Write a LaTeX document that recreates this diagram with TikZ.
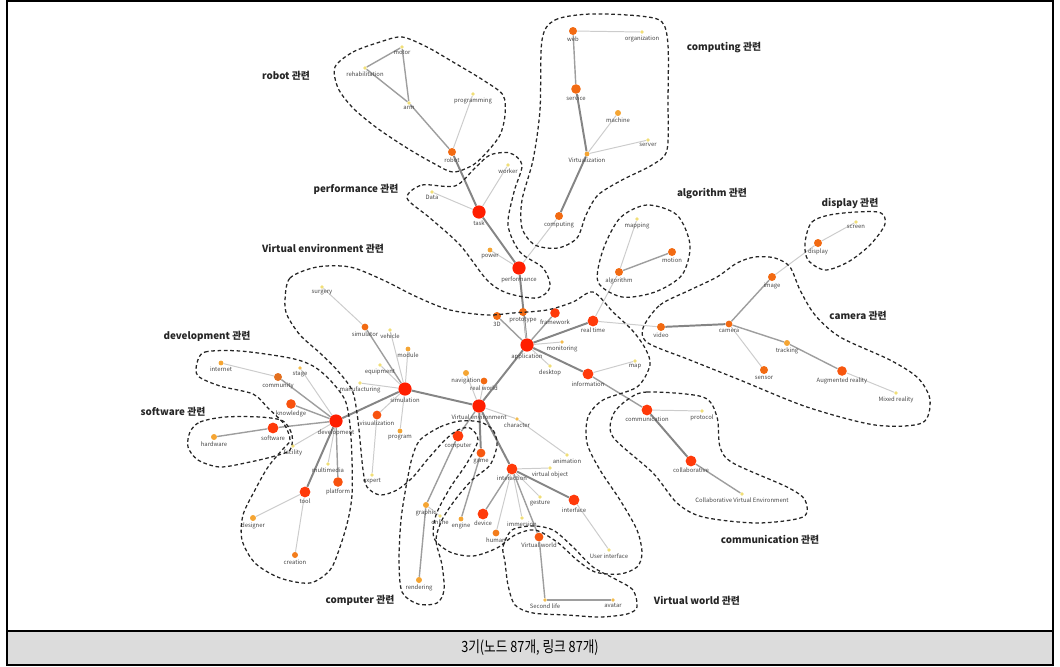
\documentclass[tikz,border=0pt]{standalone}
\usepackage{fontspec}
\setmainfont{Noto Sans CJK KR}
\usetikzlibrary{positioning}
\pgfdeclarelayer{background}
\pgfsetlayers{background,main}

\definecolor{hubred}{HTML}{FF1E00}
\definecolor{redtone}{HTML}{FF3A0A}
\definecolor{orangetone}{HTML}{F26A12}
\definecolor{ambertone}{HTML}{F5A533}
\definecolor{paletone}{HTML}{F0DE78}
\definecolor{bandgray}{HTML}{DCDCDC}

\begin{document}
\begin{tikzpicture}[
  x=0.025cm, y=-0.025cm,
  every label/.style={text=black!72, inner sep=0.4pt, font=\fontsize{4.2}{5}\selectfont},
  label distance=0.5pt,
  dot/.style={circle, inner sep=0pt, draw=none},
  hubdot/.style={dot, fill=hubred, minimum size=0.33cm},
  reddot/.style={dot, fill=redtone, minimum size=0.27cm},
  orangedot/.style={dot, fill=orangetone, minimum size=0.2cm},
  ambdot/.style={dot, fill=ambertone, minimum size=0.15cm},
  paledot/.style={dot, fill=paletone, minimum size=0.09cm},
  linkA/.style={draw=black!48, line width=1.4pt},
  linkB/.style={draw=black!38, line width=1pt},
  linkC/.style={draw=black!20, line width=0.7pt},
  group/.style={draw=black!85, line width=0.9pt, dash pattern=on 2.6pt off 1.9pt},
  grouplabel/.style={font=\fontsize{7}{8}\selectfont\bfseries, text=black!85}
]
\useasboundingbox (0,0) rectangle (1060,666);
\fill[bandgray] (7,631) rectangle (1053,665);
\draw[line width=1.1pt] (7,1) rectangle (1053,665);
\draw[line width=1.1pt] (7,631) -- (1053,631);
\node (caption) at (530,648) {\scalebox{0.82}[1]{\fontsize{11}{13}\selectfont 3기(노드 87개, 링크 87개)}};

% robot
\node[paledot, label=below:motor] (motor) at (402,47) {};
\node[paledot, label=below:rehabilitation] (rehab) at (365,68) {};
\node[paledot, label=below:arm] (arm) at (409,103) {};
\node[paledot, label=below:programming] (programming) at (473,94) {};
\node[orangedot, label=below:robot] (robot) at (452,152) {};
% computing
\node[orangedot, label=below:web] (web) at (573,31) {};
\node[paledot, label=below:organization] (organization) at (642,32) {};
\node[orangedot, minimum size=0.24cm, label=below:service] (service) at (576,89) {};
\node[ambdot, label=below:machine] (machine) at (618,113) {};
\node[paledot, label=below:server] (server) at (648,140) {};
\node[ambdot, minimum size=0.12cm, label=below:Virtualization] (virtualization) at (587,154) {};
\node[orangedot, label=below:computing] (computing) at (559,216) {};
% performance
\node[paledot, label=below:Data] (data) at (432,192) {};
\node[paledot, label=below:worker] (worker) at (508,165) {};
\node[hubdot, label=below:task] (task) at (479,212) {};
\node[ambdot, minimum size=0.12cm, label=below:power] (power) at (490,250) {};
\node[hubdot, label=below:performance] (performance) at (519,268) {};
% algorithm, display
\node[paledot, label=below:mapping] (mapping) at (637,219) {};
\node[orangedot, label=below:motion] (motion) at (672,252) {};
\node[orangedot, label=below:algorithm] (algorithm) at (619,272) {};
\node[orangedot, label=below:display] (display) at (818,243) {};
\node[paledot, label=below:screen] (screen) at (856,222) {};
% camera
\node[orangedot, label=below:image] (image) at (772,277) {};
\node[orangedot, label=below:video] (video) at (661,327) {};
\node[orangedot, minimum size=0.17cm, label=below:camera] (camera) at (729,324) {};
\node[ambdot, label=below:tracking] (tracking) at (787,343) {};
\node[orangedot, label=below:sensor] (sensor) at (764,370) {};
\node[reddot, minimum size=0.24cm, fill=orangetone!60!redtone, label=below:Augmented reality] (augmented) at (842,371) {};
\node[paledot, label=below:Mixed reality] (mixed) at (896,393) {};
% application
\node[orangedot, label=below:3D] (threed) at (497,316) {};
\node[orangedot, label=below:prototype] (prototype) at (523,312) {};
\node[reddot, minimum size=0.24cm, label=below:framework] (framework) at (555,313) {};
\node[reddot, label=below:real time] (realtime) at (593,321) {};
\node[hubdot, label=below:application] (application) at (527,345) {};
\node[paledot, fill=ambertone!60!paletone, label=below:monitoring] (monitoring) at (562,342) {};
\node[paledot, label=below:desktop] (desktop) at (550,366) {};
\node[reddot, label=below:information] (information) at (588,374) {};
\node[paledot, label=below:map] (map) at (635,361) {};
\node[ambdot, label=below:navigation] (navigation) at (466,373) {};
\node[orangedot, minimum size=0.17cm, label=below:real world] (realworld) at (484,381) {};
\node[hubdot, label=below:Virtual environment] (virtualenv) at (479,406) {};
\node[paledot, fill=ambertone!60!paletone, label=below:character] (character) at (517,419) {};
\node[paledot, label=below:animation] (animation) at (567,455) {};
% simulation
\node[paledot, label=below:surgery] (surgery) at (322,287) {};
\node[orangedot, minimum size=0.17cm, label=below:simulator] (simulator) at (365,327) {};
\node[paledot, label=below:vehicle] (vehicle) at (390,330) {};
\node[ambdot, minimum size=0.12cm, label=below:module] (module) at (408,349) {};
\node[paledot, label=below:equipment] (equipment) at (380,365) {};
\node[paledot, label=below:manufacturing] (manufacturing) at (360,383) {};
\node[hubdot, label=below:simulation] (simulation) at (405,389) {};
\node[reddot, minimum size=0.22cm, fill=orangetone!50!redtone, label=below:visualization] (visualization) at (377,415) {};
\node[ambdot, minimum size=0.12cm, label=below:program] (program) at (400,431) {};
\node[paledot, label=below:expert] (expert) at (372,475) {};
% development
\node[ambdot, minimum size=0.12cm, label=below:internet] (internet) at (221,363) {};
\node[paledot, fill=ambertone!60!paletone, label=below:stage] (stage) at (300,368) {};
\node[orangedot, fill=orangetone!70!brown, label=below:community] (community) at (278,377) {};
\node[reddot, minimum size=0.24cm, fill=orangetone!50!redtone, label=below:knowledge] (knowledge) at (291,404) {};
\node[hubdot, label=below:development] (development) at (336,421) {};
\node[reddot, label=below:software] (software) at (273,428) {};
\node[ambdot, label=below:hardware] (hardware) at (214,437) {};
\node[paledot, label=below:facility] (facility) at (293,446) {};
\node[paledot, label=below:multimedia] (multimedia) at (328,464) {};
\node[reddot, minimum size=0.24cm, fill=orangetone!50!redtone, label=below:platform] (platform) at (338,482) {};
\node[reddot, label=below:tool] (tool) at (305,492) {};
\node[ambdot, label=below:designer] (designer) at (253,518) {};
\node[orangedot, minimum size=0.15cm, fill=orangetone!70!ambertone, label=below:creation] (creation) at (295,555) {};
% computer
\node[reddot, label=below:computer] (computer) at (458,436) {};
\node[orangedot, minimum size=0.22cm, fill=orangetone!60!redtone, label=below:game] (game) at (481,453) {};
\node[ambdot, label=below:graphic] (graphic) at (426,505) {};
\node[paledot, label=below:online] (online) at (440,516) {};
\node[ambdot, minimum size=0.12cm, label=below:engine] (engine) at (461,519) {};
\node[ambdot, label=below:rendering] (rendering) at (419,580) {};
% interaction
\node[reddot, label=below:interaction] (interaction) at (512,469) {};
\node[paledot, label=below:virtual object] (virtualobject) at (550,468) {};
\node[reddot, label=below:device] (device) at (483,514) {};
\node[orangedot, minimum size=0.17cm, fill=orangetone!70!ambertone, label=below:human] (human) at (496,533) {};
\node[paledot, label=below:immersion] (immersion) at (522,518) {};
\node[paledot, label=below:gesture] (gesture) at (540,497) {};
\node[reddot, label=below:interface] (interface) at (574,500) {};
\node[paledot, label=below:User interface] (userinterface) at (609,550) {};
\node[orangedot, minimum size=0.22cm, fill=orangetone!60!redtone, label=below:Virtual world] (virtualworld) at (539,537) {};
\node[paledot, fill=ambertone!60!paletone, label=below:Second life] (secondlife) at (545,600) {};
\node[paledot, fill=ambertone!60!paletone, label=below:avatar] (avatar) at (613,600) {};
% communication
\node[reddot, label=below:communication] (communication) at (647,410) {};
\node[paledot, label=below:protocol] (protocol) at (702,411) {};
\node[reddot, label=below:collaborative] (collaborative) at (691,461) {};
\node[paledot, label=below:Collaborative Virtual Environment] (cve) at (742,494) {};

\begin{pgfonlayer}{background}
\draw[linkB] (motor) -- (rehab);
\draw[linkB] (motor) -- (arm);
\draw[linkB] (rehab) -- (arm);
\draw[linkB] (arm) -- (robot);
\draw[linkC] (programming) -- (robot);
\draw[linkA] (robot) -- (task);
\draw[linkC] (web) -- (organization);
\draw[linkB] (web) -- (service);
\draw[linkA] (service) -- (virtualization);
\draw[linkC] (machine) -- (virtualization);
\draw[linkC] (server) -- (virtualization);
\draw[linkA] (virtualization) -- (computing);
\draw[linkC] (computing) -- (performance);
\draw[linkC] (data) -- (task);
\draw[linkC] (worker) -- (task);
\draw[linkA] (task) -- (performance);
\draw[linkC] (power) -- (performance);
\draw[linkA] (performance) -- (application);
\draw[linkC] (prototype) -- (application);
\draw[linkC] (mapping) -- (algorithm);
\draw[linkB] (motion) -- (algorithm);
\draw[linkC] (algorithm) -- (realtime);
\draw[linkC] (display) -- (screen);
\draw[linkC] (display) -- (image);
\draw[linkB] (image) -- (camera);
\draw[linkA] (video) -- (camera);
\draw[linkB] (camera) -- (tracking);
\draw[linkC] (camera) -- (sensor);
\draw[linkB] (tracking) -- (augmented);
\draw[linkC] (augmented) -- (mixed);
\draw[linkC] (realtime) -- (video);
\draw[linkB] (threed) -- (application);
\draw[linkB] (framework) -- (application);
\draw[linkA] (realtime) -- (application);
\draw[linkC] (monitoring) -- (application);
\draw[linkC] (desktop) -- (application);
\draw[linkA] (information) -- (application);
\draw[linkC] (information) -- (map);
\draw[linkB] (information) -- (communication);
\draw[linkA] (application) -- (virtualenv);
\draw[linkC] (navigation) -- (virtualenv);
\draw[linkC] (realworld) -- (virtualenv);
\draw[linkC] (virtualenv) -- (character);
\draw[linkC] (character) -- (animation);
\draw[linkC] (surgery) -- (simulator);
\draw[linkB] (simulator) -- (simulation);
\draw[linkC] (vehicle) -- (simulation);
\draw[linkC] (module) -- (simulation);
\draw[linkC] (equipment) -- (simulation);
\draw[linkC] (manufacturing) -- (simulation);
\draw[linkC] (simulation) -- (program);
\draw[linkC] (simulation) -- (visualization);
\draw[linkC] (visualization) -- (expert);
\draw[linkA] (simulation) -- (virtualenv);
\draw[linkA] (development) -- (simulation);
\draw[linkC] (internet) -- (community);
\draw[linkB] (community) -- (development);
\draw[linkC] (stage) -- (development);
\draw[linkB] (knowledge) -- (development);
\draw[linkB] (software) -- (development);
\draw[linkB] (hardware) -- (software);
\draw[linkC] (facility) -- (development);
\draw[linkC] (multimedia) -- (development);
\draw[linkB] (platform) -- (development);
\draw[linkA] (tool) -- (development);
\draw[linkC] (designer) -- (tool);
\draw[linkC] (creation) -- (tool);
\draw[linkB] (virtualenv) -- (computer);
\draw[linkA] (virtualenv) -- (game);
\draw[linkB] (computer) -- (graphic);
\draw[linkB] (graphic) -- (rendering);
\draw[linkB] (game) -- (engine);
\draw[linkC] (graphic) -- (online);
\draw[linkA] (virtualenv) -- (interaction);
\draw[linkC] (interaction) -- (virtualobject);
\draw[linkB] (interaction) -- (device);
\draw[linkC] (interaction) -- (human);
\draw[linkC] (interaction) -- (immersion);
\draw[linkC] (interaction) -- (gesture);
\draw[linkA] (interaction) -- (interface);
\draw[linkB] (interaction) -- (virtualworld);
\draw[linkC] (interface) -- (userinterface);
\draw[linkB] (virtualworld) -- (secondlife);
\draw[linkB] (secondlife) -- (avatar);
\draw[linkC] (communication) -- (protocol);
\draw[linkA] (communication) -- (collaborative);
\draw[linkB] (collaborative) -- (cve);
\end{pgfonlayer}

% group outlines
\draw[group] plot[smooth cycle] coordinates {(335,67) (353,52) (380,42) (402,37) (427,47) (453,62) (483,80) (503,95) (505,115) (500,135) (487,152) (473,165) (453,172) (433,163) (407,148) (377,128) (353,108) (338,88)};
\draw[group] plot[smooth cycle] coordinates {(542,40) (555,20) (590,14) (640,16) (662,22) (668,45) (668,100) (667,150) (652,165) (622,180) (598,195) (586,215) (577,238) (558,248) (535,245) (522,228) (522,200) (533,160) (540,110)};
\draw[group] plot[smooth cycle] coordinates {(407,198) (422,185) (455,186) (475,168) (490,155) (510,153) (522,165) (514,192) (508,225) (520,252) (543,268) (550,287) (537,298) (507,293) (487,280) (460,245) (430,218)};
\draw[group] plot[smooth cycle] coordinates {(598,282) (603,250) (620,218) (647,205) (677,215) (690,245) (682,275) (655,292) (622,297)};
\draw[group] plot[smooth cycle] coordinates {(805,243) (812,222) (835,214) (878,212) (885,224) (870,245) (848,262) (825,270) (808,260)};
\draw[group] plot[smooth cycle] coordinates {(643,328) (660,305) (690,290) (717,277) (737,263) (755,257) (775,258) (790,267) (800,290) (815,315) (840,337) (890,360) (918,378) (930,400) (922,423) (875,425) (807,407) (740,380) (690,360) (648,343)};
\draw[group] plot[smooth cycle] coordinates {(627,400) (647,392) (703,397) (717,417) (720,447) (733,463) (787,487) (805,500) (803,517) (757,523) (703,517) (677,503) (653,473) (613,437) (613,415)};
\draw[group] plot[smooth cycle] coordinates {(503,547) (512,530) (533,526) (553,530) (573,547) (593,567) (617,580) (633,590) (637,607) (627,614) (600,617) (567,615) (533,613) (515,605) (508,585) (505,562)};
\draw[group] plot[smooth cycle] coordinates {(420,440) (440,427) (460,421) (480,422) (493,430) (497,445) (490,465) (472,480) (455,500) (442,520) (436,540) (442,565) (444,590) (437,603) (418,604) (402,592) (399,560) (401,520) (406,487) (412,458)};
\draw[group] plot[smooth cycle] coordinates {(285,300) (290,278) (317,267) (350,267) (383,280) (417,297) (450,310) (487,315) (513,313) (547,310) (573,302) (593,292) (613,312) (632,330) (645,348) (650,365) (637,387) (603,400) (588,417) (587,443) (600,470) (620,500) (637,530) (642,553) (637,567) (620,574) (595,572) (577,560) (557,542) (535,530) (515,535) (497,548) (473,556) (450,552) (434,538) (436,515) (450,488) (467,463) (478,440) (470,428) (458,430) (445,440) (427,460) (413,477) (397,490) (380,495) (367,487) (363,470) (360,440) (357,413) (352,390) (337,370) (320,353) (300,335) (287,315)};
\draw[group] plot[smooth cycle] coordinates {(197,363) (205,352) (240,351) (290,358) (313,366) (330,380) (345,400) (350,425) (352,460) (352,495) (348,520) (340,547) (330,570) (310,583) (280,578) (255,563) (242,540) (243,515) (255,490) (268,467) (282,450) (290,440) (284,424) (268,408) (253,394) (220,386) (198,376)};
\draw[group] plot[smooth cycle] coordinates {(190,432) (200,422) (225,417) (260,417) (283,421) (292,435) (290,450) (275,456) (250,462) (220,467) (198,460) (188,447)};

% group labels
\node[grouplabel] (robotlbl) at (286,76) {robot 관련};
\node[grouplabel] (computinglbl) at (724,48) {computing 관련};
\node[grouplabel] (performancelbl) at (356,189) {performance 관련};
\node[grouplabel] (algorithmlbl) at (712,194) {algorithm 관련};
\node[grouplabel] (displaylbl) at (850,203) {display 관련};
\node[grouplabel] (virtualenvlbl) at (323,249) {Virtual environment 관련};
\node[grouplabel] (cameralbl) at (858,316) {camera 관련};
\node[grouplabel] (developmentlbl) at (207,336) {development 관련};
\node[grouplabel] (softwarelbl) at (173,412) {software 관련};
\node[grouplabel] (communicationlbl) at (770,540) {communication 관련};
\node[grouplabel] (computerlbl) at (360,600) {computer 관련};
\node[grouplabel] (virtualworldlbl) at (697,601) {Virtual world 관련};
\end{tikzpicture}
\end{document}
